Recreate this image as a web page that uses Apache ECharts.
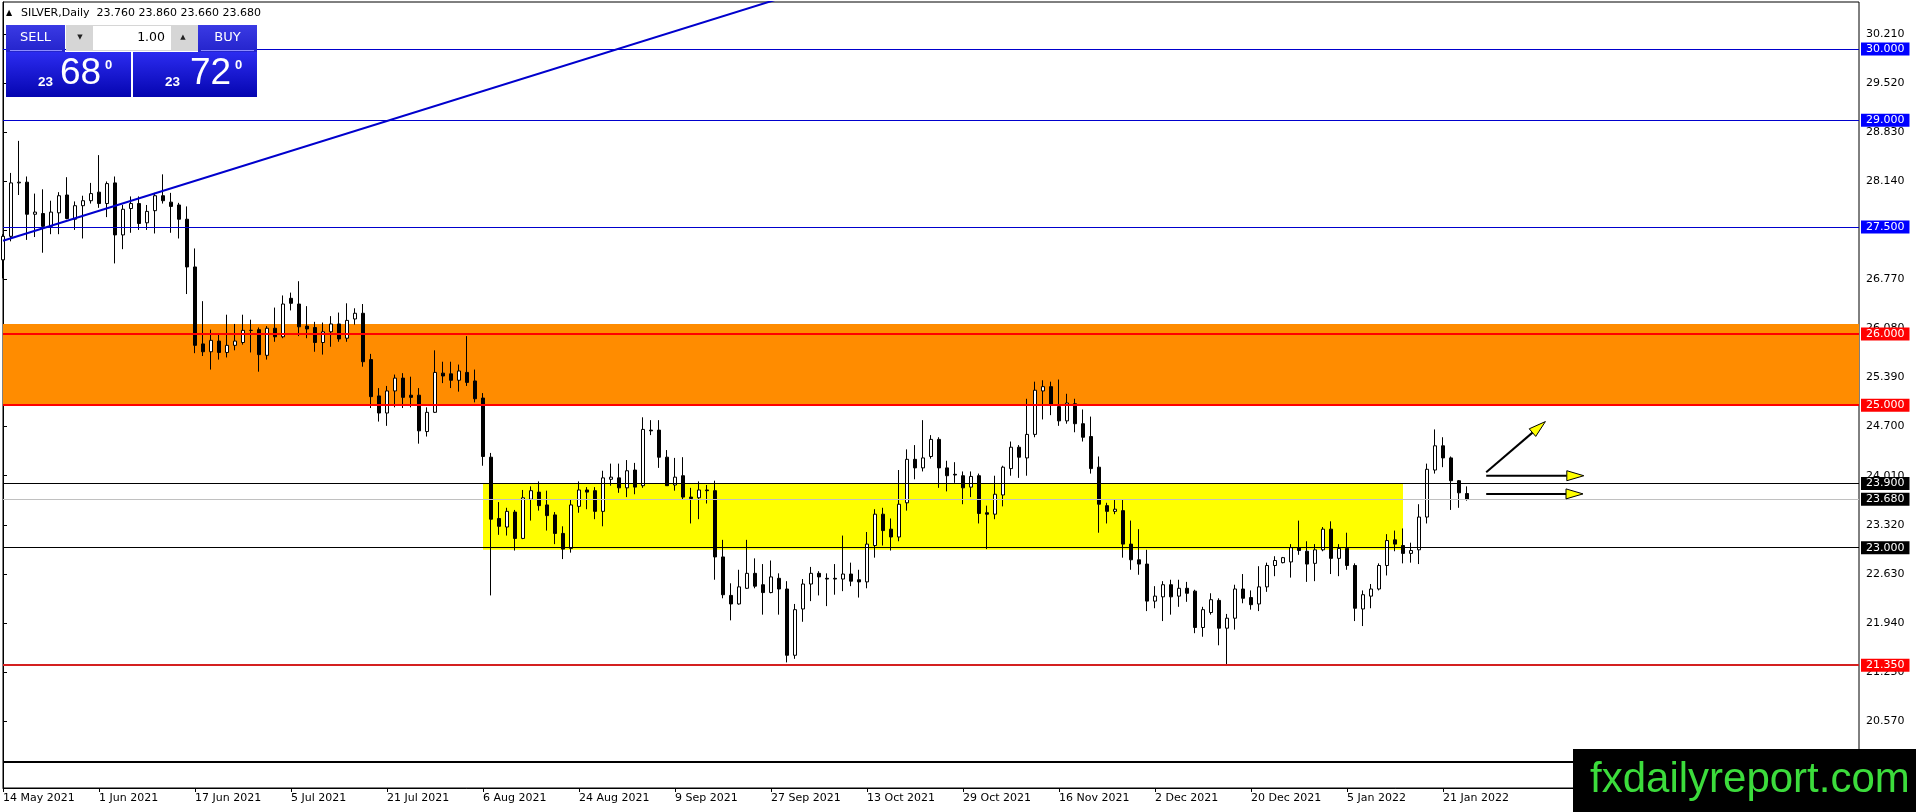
<!DOCTYPE html>
<html><head><meta charset="utf-8">
<script src="https://cdn.jsdelivr.net/npm/echarts@6/dist/echarts.min.js"></script>
<style>html,body{margin:0;padding:0;background:#fff;overflow:hidden}#c{width:1916px;height:812px}</style>
</head><body><div id="c"></div>
<script>
// ---------------- DATA ----------------
const symbolTitle = 'SILVER,Daily';
const headerOHLC = ['23.760', '23.860', '23.660', '23.680'];
const bidPrice = '23.680';
const askPrice = '23.720';
const lotSize = '1.00';
const firstDate = '2021-05-14';
const tickLabels = ['14 May 2021','1 Jun 2021','17 Jun 2021','5 Jul 2021','21 Jul 2021','6 Aug 2021','24 Aug 2021','9 Sep 2021','27 Sep 2021','13 Oct 2021','29 Oct 2021','16 Nov 2021','2 Dec 2021','20 Dec 2021','5 Jan 2022','21 Jan 2022'];
const opens = [27.04,27.37,28.12,28.13,27.68,27.69,27.51,27.70,27.95,27.61,
27.80,27.87,27.99,27.83,28.12,27.39,27.76,27.83,27.56,27.73,
27.94,27.85,27.81,27.61,26.94,25.86,25.75,25.90,25.74,25.84,
25.88,26.05,26.06,25.70,26.08,25.96,26.50,26.42,26.11,26.09,
25.88,26.03,26.14,25.94,26.21,26.29,25.64,25.13,24.89,25.20,
25.38,25.14,25.14,24.63,24.90,25.45,25.44,25.35,25.46,25.34,
25.10,24.27,23.41,23.29,23.50,23.13,23.68,23.78,23.60,23.46,
23.20,22.99,23.58,23.81,23.80,23.51,23.96,23.98,23.84,24.09,
23.87,24.65,24.65,24.27,23.88,24.01,23.71,23.70,23.81,23.80,
22.87,22.33,22.21,22.43,22.64,22.48,22.37,22.57,22.42,21.49,
22.14,22.49,22.64,22.57,22.57,22.56,22.63,22.55,22.52,23.03,
23.47,23.26,23.15,23.63,24.24,24.12,24.28,24.52,24.12,24.03,
24.01,23.85,24.01,23.49,23.47,23.74,24.11,24.41,24.26,24.59,
25.20,25.26,24.98,24.78,25.02,24.74,24.56,24.13,23.59,23.51,
23.52,23.05,22.83,22.77,22.25,22.31,22.48,22.32,22.43,22.39,
21.88,22.09,22.26,21.87,22.01,22.42,22.30,22.21,22.45,22.75,
22.79,22.80,23.00,22.95,22.78,22.97,23.26,22.85,22.99,22.75,
22.14,22.32,22.42,22.75,23.11,23.03,22.92,22.97,23.43,24.09,
24.43,24.26,23.94,23.76];
const highs = [27.40,28.26,28.71,28.21,27.97,28.03,27.87,27.99,28.20,27.86,
27.94,28.12,28.51,28.14,28.21,27.81,27.93,27.93,27.81,27.98,
28.24,27.98,27.84,27.79,27.20,26.46,26.06,26.00,26.27,26.14,
26.27,26.20,26.09,26.11,26.37,26.54,26.58,26.74,26.39,26.17,
26.16,26.25,26.30,26.43,26.36,26.42,25.72,25.24,25.27,25.43,
25.45,25.40,25.24,24.97,25.77,25.61,25.61,25.57,25.97,25.50,
25.17,24.33,23.64,23.56,23.53,23.81,23.86,23.93,23.80,23.50,
23.30,23.67,23.93,23.85,23.85,24.08,24.18,24.18,24.23,24.19,
24.83,24.79,24.79,24.37,24.26,24.27,23.84,23.93,23.88,23.94,
23.11,22.50,22.69,23.11,22.85,22.77,22.82,22.64,22.53,22.21,
22.56,22.73,22.67,22.64,22.77,23.17,22.79,22.69,23.22,23.54,
23.56,23.41,24.09,24.38,24.44,24.79,24.58,24.55,24.22,24.20,
24.07,24.07,24.04,23.59,24.01,24.15,24.49,24.44,25.09,25.33,
25.35,25.33,25.36,25.16,25.09,24.94,24.84,24.28,23.63,23.68,
23.68,23.38,23.26,22.97,22.46,22.53,22.55,22.55,22.52,22.41,
22.17,22.36,22.29,22.07,22.48,22.63,22.40,22.74,22.79,22.88,
22.87,23.05,23.38,23.09,23.05,23.29,23.37,23.05,23.21,22.78,
22.40,22.49,22.78,23.19,23.24,23.27,23.07,23.61,24.18,24.66,
24.55,24.28,23.95,23.86];
const lows = [26.78,27.30,27.95,27.32,27.36,27.14,27.40,27.40,27.61,27.46,
27.34,27.83,27.77,27.64,26.99,27.19,27.42,27.46,27.46,27.41,
27.83,27.42,27.34,26.56,25.73,25.69,25.50,25.64,25.67,25.77,
25.85,25.74,25.47,25.64,25.89,25.94,26.33,25.97,25.94,25.75,
25.71,25.82,25.89,25.89,26.13,25.54,24.96,24.77,24.71,24.97,
24.96,24.97,24.46,24.56,24.89,25.31,25.24,25.19,25.27,25.04,
24.15,22.33,23.18,23.17,22.96,23.12,23.38,23.52,23.24,23.05,
22.84,22.93,23.49,23.54,23.40,23.30,23.87,23.77,23.71,23.75,
23.84,24.58,24.12,23.87,23.80,23.67,23.34,23.40,23.62,22.55,
22.29,21.98,22.20,22.42,22.43,22.06,22.36,22.06,21.39,21.44,
21.96,22.25,22.33,22.18,22.34,22.39,22.46,22.30,22.43,22.86,
23.03,22.96,23.09,23.52,23.96,24.07,24.25,23.84,23.79,23.91,
23.61,23.71,23.34,22.98,23.40,23.58,24.01,23.98,24.01,24.55,
24.80,24.86,24.71,24.74,24.62,24.49,24.04,23.21,23.34,23.47,
22.86,22.69,22.62,22.11,22.15,21.97,22.06,22.17,22.24,21.80,
21.75,22.06,21.63,21.36,21.85,22.22,22.13,22.11,22.38,22.60,
22.78,22.58,22.90,22.52,22.53,22.95,22.63,22.60,22.69,21.97,
21.90,22.15,22.40,22.61,22.95,22.78,22.79,22.77,23.34,24.04,
24.13,23.53,23.56,23.66];
const closes = [27.37,28.12,28.13,27.68,27.71,27.51,27.71,27.94,27.62,27.80,
27.87,27.97,27.83,28.11,27.39,27.75,27.83,27.55,27.72,27.94,
27.87,27.79,27.61,26.94,25.84,25.75,25.91,25.74,25.84,25.90,
26.05,26.05,25.71,26.08,25.96,26.42,26.43,26.10,26.07,25.88,
26.03,26.14,25.93,26.19,26.29,25.61,25.12,24.89,25.20,25.38,
25.11,25.11,24.64,24.90,25.46,25.41,25.35,25.48,25.32,25.09,
24.28,23.40,23.30,23.51,23.13,23.70,23.80,23.59,23.45,23.20,
22.98,23.60,23.81,23.78,23.51,23.98,23.99,23.84,24.08,23.85,
24.66,24.64,24.27,23.87,23.99,23.71,23.69,23.81,23.80,22.87,
22.34,22.21,22.45,22.64,22.46,22.37,22.59,22.42,21.49,22.13,
22.49,22.64,22.59,22.56,22.56,22.63,22.53,22.52,23.05,23.47,
23.24,23.15,23.61,24.24,24.12,24.26,24.52,24.12,24.01,24.02,
23.84,24.00,23.48,23.47,23.75,24.13,24.41,24.27,24.59,25.21,
25.26,25.01,24.78,25.03,24.74,24.55,24.11,23.61,23.51,23.54,
23.05,22.83,22.77,22.25,22.32,22.48,22.31,22.43,22.36,21.88,
22.13,22.27,21.87,22.01,22.42,22.29,22.20,22.45,22.75,22.82,
22.86,23.00,22.96,22.77,22.97,23.26,22.85,22.99,22.75,22.15,
22.34,22.42,22.75,23.10,23.05,22.92,22.96,23.43,24.10,24.43,
24.26,23.94,23.77,23.68];
const yTickValues = [30.21,29.52,28.83,28.14,27.45,26.77,26.08,25.39,24.70,24.01,23.32,22.63,21.94,21.25,20.57];
const yRange = [19.627, 30.659];
const barSlots = 233;
const levels = [30, 29, 27.5, 26, 25, 23.9, 23.68, 23, 21.35, 20];
const orangeZone = [25, 26.14];
const yellowZoneBars = [60, 175];
const yellowZonePrices = [22.97, 23.9];
const trendBars = [0, 110];
const trendPrices = [27.309, 31.16];
const arrows = [[185.4, 24.06, 192.8, 24.77], [185.4, 24.01, 197.6, 24.01], [185.4, 23.755, 197.5, 23.755]];
const watermark = 'fxdailyreport.com';

// ---------------- STYLES ----------------
const levelStyles = [
  {line:'#0000CD', w:1, bg:'#0000FF'}, {line:'#0000CD', w:1, bg:'#0000FF'}, {line:'#0000CD', w:1, bg:'#0000FF'},
  {line:'#FF0000', w:2, bg:'#FF0000'}, {line:'#FF0000', w:2, bg:'#FF0000'},
  {line:'#000000', w:1, bg:'#000000'}, {line:'#C0C0C0', w:1, bg:'#000000'}, {line:'#000000', w:1, bg:'#000000'},
  {line:'#D42020', w:2, bg:'#FF0000'}, {line:'#000000', w:2, bg:'#000000'}
];
const FONT = 'DejaVu Sans';

// ---------------- BUILD ----------------
const MONTHS = ['Jan','Feb','Mar','Apr','May','Jun','Jul','Aug','Sep','Oct','Nov','Dec'];
const categories = [];
(function(){
  const d = new Date(firstDate + 'T00:00:00Z');
  while (categories.length < opens.length) {
    const wd = d.getUTCDay();
    if (wd !== 0 && wd !== 6) categories.push(d.getUTCDate() + ' ' + MONTHS[d.getUTCMonth()] + ' ' + d.getUTCFullYear());
    d.setUTCDate(d.getUTCDate() + 1);
  }
  let k = 0;
  while (categories.length < barSlots) categories.push('~' + (k++));
})();
const tickSet = new Set(tickLabels);
const candleData = opens.map((o, i) => [o, closes[i], lows[i], highs[i]]);

const markLineData = levels.map((v, i) => ({
  yAxis: v,
  lineStyle: {color: levelStyles[i].line, width: levelStyles[i].w, type: 'solid'},
  label: {show: true, position: 'end', distance: 2, formatter: v.toFixed(3), color: '#fff',
    backgroundColor: levelStyles[i].bg, padding: [1, 5, 0, 5], fontFamily: FONT, fontSize: 11, lineHeight: 12}
}));

const grad = (a, b) => new echarts.graphic.LinearGradient(0, 0, 0, 1, [{offset: 0, color: a}, {offset: 1, color: b}]);
function priceParts(p) { return {pre: p.slice(0, 2), big: p.slice(3, 5), sup: p.slice(5)}; }
const bidP = priceParts(bidPrice), askP = priceParts(askPrice);

function txt(x, y, text, size, color, extra) {
  return Object.assign({type: 'text', x: x, y: y, z: 100, silent: true,
    style: Object.assign({text: text, fontSize: size, fontFamily: FONT, fill: color, align: 'left', verticalAlign: 'middle'}, extra || {})});
}
function rect(x, y, w, h, fill, extra) {
  return Object.assign({type: 'rect', z: 100, silent: true, shape: {x: x, y: y, width: w, height: h}, style: {fill: fill}}, extra || {});
}

const graphicEls = [
  txt(6, 13, '▲', 8, '#000'),
  txt(21, 13, symbolTitle + '  ' + headerOHLC.join(' '), 11, '#000'),
  // sell button
  rect(6, 25, 59, 27, grad('#3a3ae4', '#2424cc')),
  rect(10, 50, 52, 1, '#8c8cff'),
  txt(35.5, 38, 'SELL', 13, '#fff', {align: 'center'}),
  // spinner
  rect(66, 25, 132, 26, '#d6d6d6'),
  rect(93, 26, 78, 24, '#ffffff'),
  txt(80, 37, '▼', 7, '#222', {align: 'center'}),
  txt(183, 37, '▲', 7, '#222', {align: 'center'}),
  txt(165, 38, lotSize, 12.5, '#000', {align: 'right'}),
  // buy button
  rect(198, 25, 59, 27, grad('#3a3ae4', '#2424cc')),
  rect(201, 50, 53, 1, '#8c8cff'),
  txt(227.5, 38, 'BUY', 13, '#fff', {align: 'center'}),
  // price boxes
  rect(6, 52, 125, 45, grad('#2c2cf0', '#0505b0')),
  rect(133, 52, 124, 45, grad('#2c2cf0', '#0505b0')),
  txt(38, 82, bidP.pre, 13.5, '#fff', {fontWeight: 'bold', fontFamily: 'Liberation Sans'}),
  txt(60, 74, bidP.big, 37, '#fff', {fontFamily: 'Liberation Sans'}),
  txt(105, 65, bidP.sup, 13, '#fff', {fontWeight: 'bold', fontFamily: 'Liberation Sans'}),
  txt(165, 82, askP.pre, 13.5, '#fff', {fontWeight: 'bold', fontFamily: 'Liberation Sans'}),
  txt(190, 74, askP.big, 37, '#fff', {fontFamily: 'Liberation Sans'}),
  txt(235, 65, askP.sup, 13, '#fff', {fontWeight: 'bold', fontFamily: 'Liberation Sans'}),
  // watermark
  rect(1573, 749, 343, 63, '#000'),
  txt(1590, 780, watermark, 42, '#3cdc3c', {fontFamily: 'Liberation Sans'})
];

const chart = echarts.init(document.getElementById('c'), null, {renderer: 'canvas'});
chart.setOption({
  animation: false,
  backgroundColor: '#ffffff',
  grid: {left: 3, right: 57, top: 2, bottom: 24, show: true, borderColor: '#000', borderWidth: 1, backgroundColor: '#fff'},
  xAxis: [{
    type: 'category', data: categories, boundaryGap: false,
    axisLine: {show: true, lineStyle: {color: '#000'}},
    axisTick: {show: true, length: 4, interval: (i, v) => tickSet.has(v), lineStyle: {color: '#000'}},
    axisLabel: {show: true, interval: (i, v) => tickSet.has(v), align: 'left', margin: 5, color: '#000', fontFamily: FONT, fontSize: 11},
    splitLine: {show: false}
  }, {
    type: 'value', min: 0, max: barSlots - 1, show: false, splitLine: {show: false}
  }],
  yAxis: {
    type: 'value', position: 'right', min: yRange[0], max: yRange[1], scale: true,
    splitLine: {show: false},
    axisLine: {show: true, lineStyle: {color: '#000'}},
    axisTick: {show: true, length: 4, customValues: yTickValues, lineStyle: {color: '#000'}},
    axisLabel: {customValues: yTickValues, formatter: v => v.toFixed(3), margin: 7, color: '#000', fontFamily: FONT, fontSize: 11}
  },
  graphic: {elements: graphicEls},
  series: [
    {
      name: 'zones', type: 'line', xAxisIndex: 1, data: [], z: 1, silent: true,
      markArea: {silent: true, data: [
        [{yAxis: orangeZone[0], itemStyle: {color: '#FF8C00', opacity: 1}}, {yAxis: orangeZone[1]}],
        [{coord: [yellowZoneBars[0], yellowZonePrices[1]], itemStyle: {color: '#FFFF00', opacity: 1}}, {coord: [yellowZoneBars[1], yellowZonePrices[0]]}]
      ]}
    },
    {
      name: 'SILVER', type: 'candlestick', xAxisIndex: 0, data: candleData, z: 3, barWidth: 4, clip: true,
      itemStyle: {color: '#ffffff', color0: '#000000', borderColor: '#000000', borderColor0: '#000000', borderWidth: 1}
    },
    {
      name: 'levels', type: 'line', xAxisIndex: 1, data: [], z: 4, silent: true,
      markLine: {silent: true, symbol: ['none', 'none'], animation: false, data: markLineData}
    },
    {
      name: 'trend', type: 'line', xAxisIndex: 1, z: 4, clip: true, symbol: 'none', silent: true,
      data: trendBars.map((b, i) => [b, trendPrices[i]]),
      lineStyle: {color: '#0000CD', width: 2}
    },
    {
      name: 'arrows', type: 'custom', xAxisIndex: 1, z: 6, silent: true,
      data: arrows,
      encode: {x: [0, 2], y: [1, 3]},
      renderItem: function (params, api) {
        const p1 = api.coord([api.value(0), api.value(1)]);
        const p2 = api.coord([api.value(2), api.value(3)]);
        const dx = p2[0] - p1[0], dy = p2[1] - p1[1];
        const len = Math.sqrt(dx * dx + dy * dy);
        const ux = dx / len, uy = dy / len;
        const hl = 17, hw = 5;
        const bx = p2[0] - ux * hl, by = p2[1] - uy * hl;
        return {type: 'group', children: [
          {type: 'line', shape: {x1: p1[0], y1: p1[1], x2: bx, y2: by}, style: {stroke: '#000', lineWidth: 2}},
          {type: 'polygon', shape: {points: [[p2[0], p2[1]], [bx - uy * hw, by + ux * hw], [bx + uy * hw, by - ux * hw]]},
            style: {fill: '#ffff00', stroke: '#000', lineWidth: 1}}
        ]};
      }
    }
  ]
});
</script>
</body></html>
